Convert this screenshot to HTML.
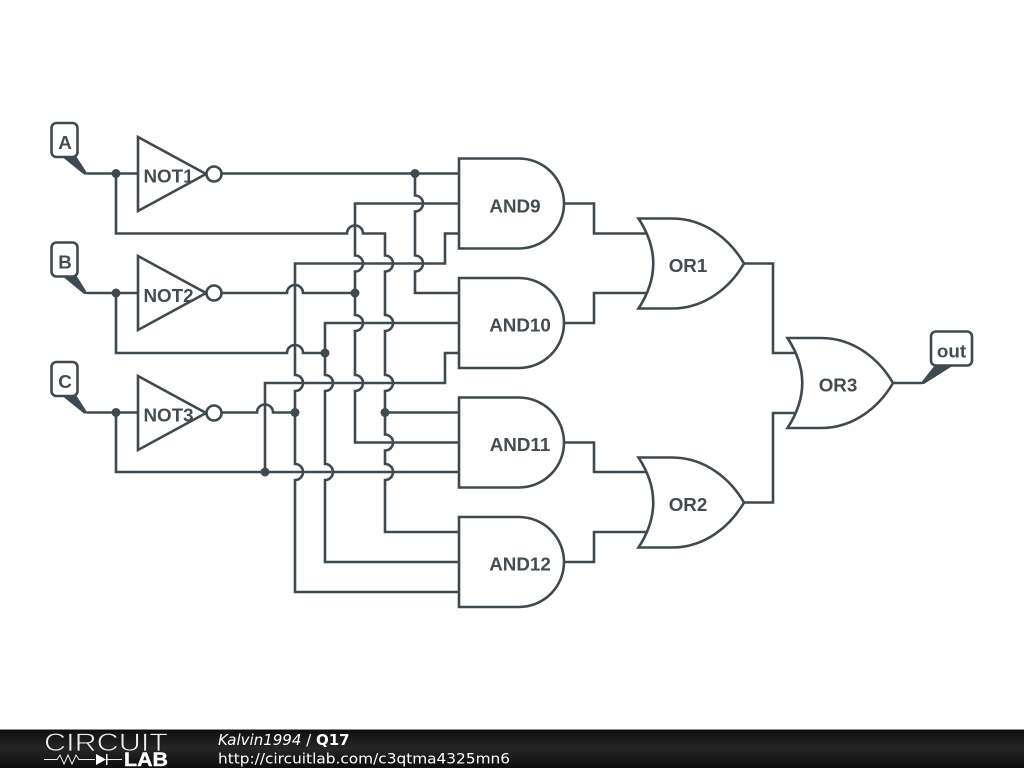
<!DOCTYPE html>
<html><head><meta charset="utf-8"><style>
html,body{margin:0;padding:0;background:#fff;width:1024px;height:768px;overflow:hidden}
svg{display:block}
.w{fill:none;stroke:#3f4a50;stroke-width:2.6;stroke-linejoin:miter}
.g{fill:#fff;stroke:#3f4a50;stroke-width:2.6}
.t{font-family:"Liberation Sans",sans-serif;font-weight:bold;font-size:18.800px;fill:#434c51;text-anchor:middle}
.d{fill:#3f4a50}
</style></head><body>
<svg width="1024" height="768" viewBox="0 0 1024 768" xmlns="http://www.w3.org/2000/svg">
<defs><linearGradient id="f" x1="0" y1="0" x2="0" y2="1"><stop offset="0" stop-color="#0e0e0e"/><stop offset="0.5" stop-color="#262626"/><stop offset="1" stop-color="#0c0c0c"/></linearGradient></defs>
<!-- wires -->
<path class="w" d="M87 173.500H138M222 173.500H459"/>
<path class="w" d="M116 173.500V233.500H347A8 8 0 0 1 363 233.500H385V255.500A8 8 0 0 1 385 271.500V315A8 8 0 0 1 385 331V375A8 8 0 0 1 385 391V434.500A8 8 0 0 1 385 450.500V464A8 8 0 0 1 385 480V532H459"/>
<path class="w" d="M385 412.500H459"/>
<path class="w" d="M415 173.500V195.500A8 8 0 0 1 415 211.500V255.500A8 8 0 0 1 415 271.500V293H459"/>
<path class="w" d="M459 203.500H355V255.500A8 8 0 0 1 355 271.500V315A8 8 0 0 1 355 331V375A8 8 0 0 1 355 391V442.500H459"/>
<path class="w" d="M87 293H138M222 293H287A8 8 0 0 1 303 293H355"/>
<path class="w" d="M459 233.500H445V263.500H295V375A8 8 0 0 1 295 391V464A8 8 0 0 1 295 480V592H459"/>
<path class="w" d="M222 412.500H257A8 8 0 0 1 273 412.500H295"/>
<path class="w" d="M116 293V353H287A8 8 0 0 1 303 353H325"/>
<path class="w" d="M459 323H325V375A8 8 0 0 1 325 391V464A8 8 0 0 1 325 480V562H459"/>
<path class="w" d="M87 412.500H138M116 412.500V472H459"/>
<path class="w" d="M265 472V383H445V353H459"/>
<path class="w" d="M564 203.500H594V233.500H650M564 323H594V293H650M744 263.500H773V353H804"/>
<path class="w" d="M564 442.500H594V472H650M564 562H594V532H650M744 502.500H773V413H804"/>
<path class="w" d="M893 383H922"/>
<!-- junctions -->
<circle class="d" cx="116" cy="173.500" r="4.500"/><circle class="d" cx="116" cy="293" r="4.500"/><circle class="d" cx="116" cy="412.500" r="4.500"/>
<circle class="d" cx="415" cy="173.500" r="4.500"/><circle class="d" cx="355" cy="293" r="4.500"/><circle class="d" cx="325" cy="353" r="4.500"/>
<circle class="d" cx="295" cy="412.500" r="4.500"/><circle class="d" cx="385" cy="412.500" r="4.500"/><circle class="d" cx="265" cy="472" r="4.500"/>
<!-- NOT -->
<path class="g" d="M138 137L206 174L138 211Z"/><circle class="g" cx="214" cy="174" r="7.500"/>
<path class="g" d="M138 256L206 293L138 330Z"/><circle class="g" cx="214" cy="293" r="7.500"/>
<path class="g" d="M138 376L206 413L138 450Z"/><circle class="g" cx="214" cy="413" r="7.500"/>
<!-- AND -->
<path class="g" d="M459 158.500H519A45 45 0 0 1 519 248.500H459Z"/>
<path class="g" d="M459 278H519A45 45 0 0 1 519 368H459Z"/>
<path class="g" d="M459 397.500H519A45 45 0 0 1 519 487.500H459Z"/>
<path class="g" d="M459 517H519A45 45 0 0 1 519 607H459Z"/>
<!-- OR -->
<path class="g" d="M638.500 218.500H672C706 218.500 731 241 744 263.500C731 286 706 308.500 672 308.500H638.500Q668 263.500 638.500 218.500Z"/>
<path class="g" d="M638.500 457.500H672C706 457.500 731 480 744 502.500C731 525 706 547.500 672 547.500H638.500Q668 502.500 638.500 457.500Z"/>
<path class="g" d="M787.500 338H821C855 338 880 360.500 893 383C880 405.500 855 428 821 428H787.500Q817 383 787.500 338Z"/>
<!-- labels -->
<path class="d" d="M61 156L76 156L88 174.500L84 174.500Z"/><rect class="g" x="51.500" y="123" width="26" height="34" rx="5"/>
<path class="d" d="M61 275L76 275L88 294L84 294Z"/><rect class="g" x="51.500" y="242.500" width="26" height="34" rx="5"/>
<path class="d" d="M61 395L76 395L88 413.500L84 413.500Z"/><rect class="g" x="51.500" y="362" width="26" height="34" rx="5"/>
<path class="d" d="M935 365L954 365L924 384L920 384Z"/><rect class="g" x="931" y="331.500" width="41" height="34" rx="5"/>
<!-- text -->
<g class="t">
<text class="t" x="65" y="149">A</text><text class="t" x="65" y="268.500">B</text><text class="t" x="65" y="388">C</text>
<text class="t" x="951.500" y="357.500">out</text>
<text class="t" x="168.500" y="182.500">NOT1</text><text class="t" x="168.500" y="302">NOT2</text><text class="t" x="168.500" y="421.500">NOT3</text>
<text class="t" x="515" y="212.500">AND9</text><text class="t" x="520" y="331.500">AND10</text><text class="t" x="520" y="451">AND11</text><text class="t" x="520" y="570.500">AND12</text>
<text class="t" x="688" y="272">OR1</text><text class="t" x="688" y="511">OR2</text><text class="t" x="838" y="391.500">OR3</text>
</g>
<!-- footer -->
<rect x="0" y="729" width="1024" height="39" fill="url(#f)"/>
<rect x="0" y="729" width="1024" height="1" fill="#8a8a8a"/>
<text x="44" y="751" font-family="Liberation Sans, sans-serif" font-size="25" fill="#eee" stroke="#1c1c1c" stroke-width="0.7" textLength="124" lengthAdjust="spacingAndGlyphs">CIRCUIT</text>
<path d="M44 759.500H57L60 755L64 764L68 755L72 764L76 755L79 759.500H95M106 759.500H122" fill="none" stroke="#eee" stroke-width="1"/>
<path d="M96 754L106 759.500L96 765Z" fill="#fff"/><rect x="106" y="754" width="1.500" height="11" fill="#fff"/>
<text x="124" y="766" font-family="Liberation Sans, sans-serif" font-weight="bold" font-size="19" fill="#fff" stroke="#fff" stroke-width="0.4" textLength="44" lengthAdjust="spacingAndGlyphs">LAB</text>
<text x="218" y="745" font-family="DejaVu Sans, sans-serif" font-size="15" fill="#fff"><tspan font-style="italic">Kalvin1994</tspan> / <tspan font-weight="bold">Q17</tspan></text>
<text x="218" y="763.500" font-family="DejaVu Sans, sans-serif" font-size="14.500" fill="#fff" textLength="292" lengthAdjust="spacingAndGlyphs">http://circuitlab.com/c3qtma4325mn6</text>
</svg>
</body></html>
